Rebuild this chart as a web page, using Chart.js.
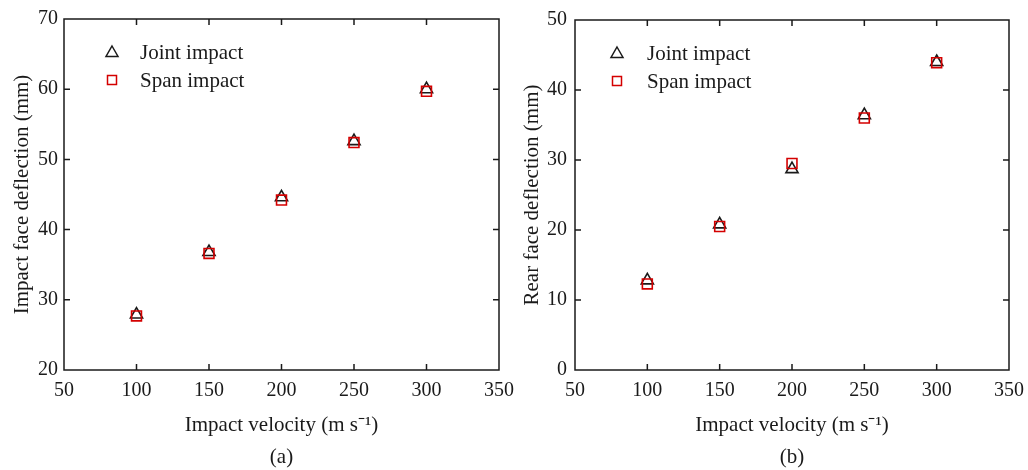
<!DOCTYPE html>
<html>
<head>
<meta charset="utf-8">
<script src="https://cdn.jsdelivr.net/npm/chart.js@4/dist/chart.umd.min.js"></script>
<style>
  html, body { margin: 0; padding: 0; background: #fff; overflow: hidden; }
  .panel { position: absolute; top: 0; width: 514px; height: 470px; }
  #panelA { left: 0; }
  #panelB { left: 514px; }
</style>
</head>
<body>
<div class="panel" id="panelA"><canvas id="chartA"></canvas></div>
<div class="panel" id="panelB"><canvas id="chartB"></canvas></div>
<script>
// Impact velocities (m/s)
const velocities = [100, 150, 200, 250, 300];

// (a) impact face deflection (mm)
const impactFaceJoint = [27.9, 36.8, 44.6, 52.6, 60.0];
const impactFaceSpan  = [27.7, 36.6, 44.2, 52.4, 59.7];

// (b) rear face deflection (mm)
const rearFaceJoint = [12.8, 20.8, 28.7, 36.4, 44.0];
const rearFaceSpan  = [12.3, 20.5, 29.5, 36.0, 43.9];

const seriesNames = ['Joint impact', 'Span impact'];
const xTitle = 'Impact velocity (m s\u207B\u00B9)';

const FONT = "'Liberation Serif', 'Times New Roman', serif";
const INK = '#1a1a1a';
const RED = '#d40000';

function points(xs, ys) {
  return xs.map((x, i) => ({ x: x, y: ys[i] }));
}

// Closed frame with inward tick marks on all four sides
const framePlugin = {
  id: 'frame',
  afterDraw(chart) {
    const { ctx, chartArea: a, scales } = chart;
    const len = 6;
    ctx.save();
    ctx.strokeStyle = INK;
    ctx.lineWidth = 1.5;
    ctx.strokeRect(a.left, a.top, a.right - a.left, a.bottom - a.top);
    ctx.beginPath();
    scales.x.ticks.forEach(t => {
      const px = scales.x.getPixelForValue(t.value);
      if (px <= a.left + 1 || px >= a.right - 1) return;
      ctx.moveTo(px, a.bottom); ctx.lineTo(px, a.bottom - len);
      ctx.moveTo(px, a.top); ctx.lineTo(px, a.top + len);
    });
    scales.y.ticks.forEach(t => {
      const py = scales.y.getPixelForValue(t.value);
      if (py <= a.top + 1 || py >= a.bottom - 1) return;
      ctx.moveTo(a.left, py); ctx.lineTo(a.left + len, py);
      ctx.moveTo(a.right, py); ctx.lineTo(a.right - len, py);
    });
    ctx.stroke();
    ctx.restore();
  }
};

// Legend drawn inside the plot area, upper left
const insideLegendPlugin = {
  id: 'insideLegend',
  afterDraw(chart, args, opts) {
    const { ctx, chartArea: a } = chart;
    const mx = a.left + opts.markerX;
    const tx = a.left + opts.textX;
    const rows = [a.top + 33, a.top + 61];
    ctx.save();
    ctx.lineWidth = 1.5;
    seriesNames.forEach((name, i) => {
      const y = rows[i];
      ctx.beginPath();
      if (i === 0) {
        ctx.strokeStyle = INK;
        ctx.moveTo(mx, y - 6);
        ctx.lineTo(mx + 6, y + 4.5);
        ctx.lineTo(mx - 6, y + 4.5);
        ctx.closePath();
      } else {
        ctx.strokeStyle = RED;
        ctx.rect(mx - 4.5, y - 4.5, 9, 9);
      }
      ctx.stroke();
      ctx.fillStyle = INK;
      ctx.font = '21px ' + FONT;
      ctx.textBaseline = 'middle';
      ctx.textAlign = 'left';
      ctx.fillText(name, tx, y + 1);
    });
    ctx.restore();
  }
};

function makeChart(id, cfg) {
  const datasets = [
    {
      label: seriesNames[1],
      data: points(velocities, cfg.span),
      pointStyle: 'rect',
      pointRadius: 7,
      borderColor: RED,
      backgroundColor: 'rgba(255,255,255,0)',
      pointBorderWidth: 1.6,
      showLine: false,
      order: 0
    },
    {
      label: seriesNames[0],
      data: points(velocities, cfg.joint),
      pointStyle: 'triangle',
      pointRadius: 7,
      borderColor: INK,
      backgroundColor: 'rgba(255,255,255,0)',
      pointBorderWidth: 1.6,
      showLine: false,
      order: 1
    }
  ];

  return new Chart(document.getElementById(id), {
    type: 'scatter',
    data: { datasets: datasets },
    plugins: [framePlugin, insideLegendPlugin],
    options: {
      responsive: true,
      maintainAspectRatio: false,
      animation: false,
      events: [],
      layout: { padding: { top: 19, right: cfg.rightPad, bottom: 0, left: 0 } },
      plugins: {
        legend: { display: false },
        tooltip: { enabled: false },
        insideLegend: { markerX: cfg.markerX, textX: cfg.textX }
      },
      scales: {
        x: {
          type: 'linear',
          min: 50, max: 350,
          grid: { display: false, drawTicks: false },
          border: { display: false },
          ticks: { stepSize: 50, padding: 9, color: INK, font: { family: FONT, size: 20 }, maxRotation: 0 },
          title: {
            display: true,
            text: [xTitle, cfg.tag],
            color: INK,
            font: { family: FONT, size: 21, lineHeight: 1.524 },
            padding: { top: 0, bottom: -3 }
          },
          afterFit(scale) {
            scale.height = 100;
            scale.paddingLeft = 0;
            scale.paddingRight = 0;
          }
        },
        y: {
          type: 'linear',
          min: cfg.yMin, max: cfg.yMax,
          grid: { display: false, drawTicks: false },
          border: { display: false },
          ticks: { stepSize: 10, padding: cfg.yTickPad, color: INK, font: { family: FONT, size: 20 } },
          title: {
            display: true,
            text: cfg.yTitle,
            color: INK,
            font: { family: FONT, size: 21, lineHeight: 1.2 },
            padding: { top: cfg.yTitlePad, bottom: 0 }
          },
          afterFit(scale) { scale.width = cfg.yWidth; }
        }
      }
    }
  });
}

makeChart('chartA', {
  joint: impactFaceJoint,
  span: impactFaceSpan,
  yMin: 20, yMax: 70,
  yTitle: 'Impact face deflection (mm)',
  tag: '(a)',
  yWidth: 64, rightPad: 15, yTickPad: 6, yTitlePad: 10,
  markerX: 48, textX: 76
});

makeChart('chartB', {
  joint: rearFaceJoint,
  span: rearFaceSpan,
  yMin: 0, yMax: 50,
  yTitle: 'Rear face deflection (mm)',
  tag: '(b)',
  yWidth: 61, rightPad: 19, yTickPad: 8, yTitlePad: 6,
  markerX: 42, textX: 72
});
</script>
</body>
</html>
